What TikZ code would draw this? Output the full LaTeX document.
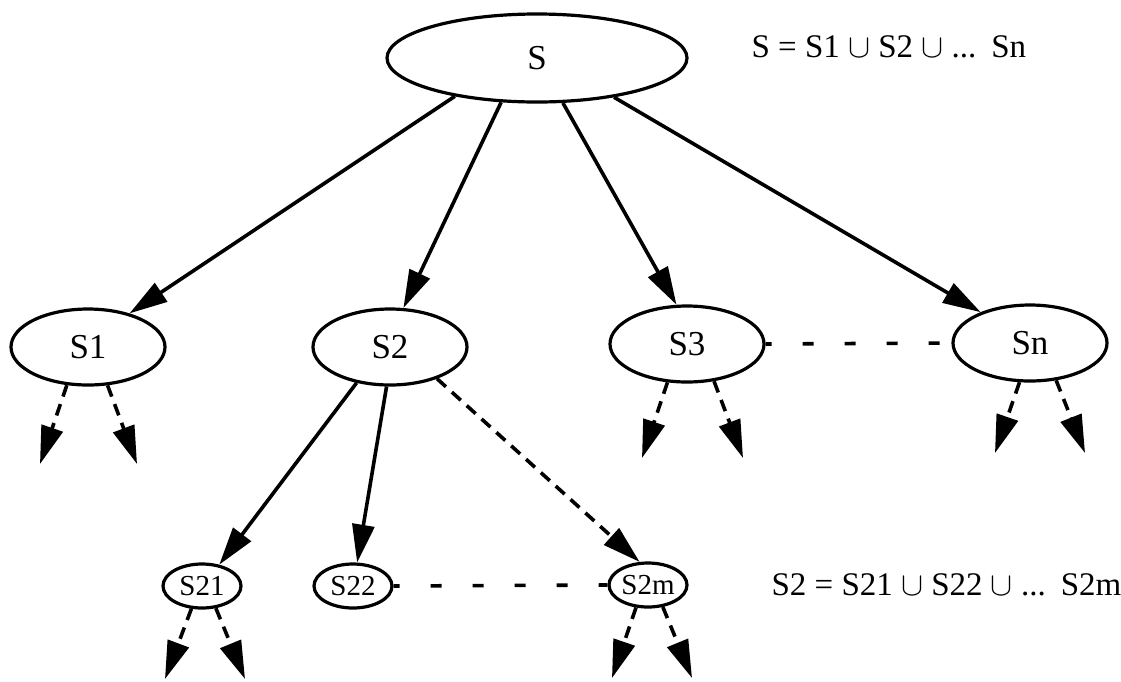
\RequirePackage{fix-cm}
\documentclass[tikz,border=0pt]{standalone}
\usepackage{fontspec}
\setmainfont{Liberation Serif}
\usetikzlibrary{shapes.geometric,arrows.meta}

\begin{document}
\begin{tikzpicture}[x=1pt,y=-1pt,
        bigset/.style={ellipse, draw, line width=3.2pt, inner sep=0pt, minimum width=154pt, minimum height=76pt, font=\fontsize{35}{37}\selectfont},
        smallset/.style={ellipse, draw, line width=3.2pt, inner sep=0pt, minimum width=78pt, minimum height=44pt, font=\fontsize{29}{31}\selectfont},
        arr/.style={line width=3.6pt, -{Triangle[length=38pt,width=22pt]}},
        darr/.style={arr, dash pattern=on 12pt off 8pt},
        sep/.style={line width=3.6pt, dash pattern=on 11pt off 31pt, dash phase=5pt},
        eq/.style={anchor=base west, font=\fontsize{33}{35}\selectfont}]
            \useasboundingbox (0,0) rectangle (1121,681);

            \node[bigset, minimum width=300pt, minimum height=88pt] (S) at (537,58) {S};
            \node[bigset] (S1) at (88,347) {S1};
            \node[bigset] (S2) at (390,347) {S2};
            \node[bigset] (S3) at (687,344) {S3};
            \node[bigset] (Sn) at (1030,343) {Sn};
            \node[smallset] (S21) at (202,586) {S21};
            \node[smallset] (S22) at (353,586) {S22};
            \node[smallset] (S2m) at (648,585) {S2m};

            \node[eq] (eqS) at (748,57) {S = S1 $\cup$ S2 $\cup$ ...\hspace{0.45em}Sn};
            \node[eq] (eqS2) at (768,595) {S2 = S21 $\cup$ S22 $\cup$ ...\hspace{0.45em}S2m};

            \draw[arr] (S.205) -- (S1.39);
            \draw[arr] (S.231) -- (S2.71);
            \draw[arr] (S.300) -- (S3.105);
            \draw[arr] (S.333) -- (Sn.148);
            \draw[arr] (S2.227) -- (S21.51);
            \draw[arr] (S2.265) -- (S22.80);
            \draw[darr] (S2.326) -- (S2m.110);

            \draw[sep] (S3.east) -- (Sn.west);
            \draw[sep] (S22.east) -- (S2m.west);

            % open branches below the leaves
            \foreach \set/\la/\ra/\lx/\rx/\ty in {S1/241/297/40/137/464, S3/243/306/642/743/458, Sn/255/305/995/1085/453, S21/245/302/165/245/679, S2m/242/304/612/692/678}{
                \coordinate (\set-l) at (\lx,\ty);
                \coordinate (\set-r) at (\rx,\ty);
                \draw[darr] (\set.\la) -- (\set-l);
                \draw[darr] (\set.\ra) -- (\set-r);
            }
        \end{tikzpicture}
\end{document}
